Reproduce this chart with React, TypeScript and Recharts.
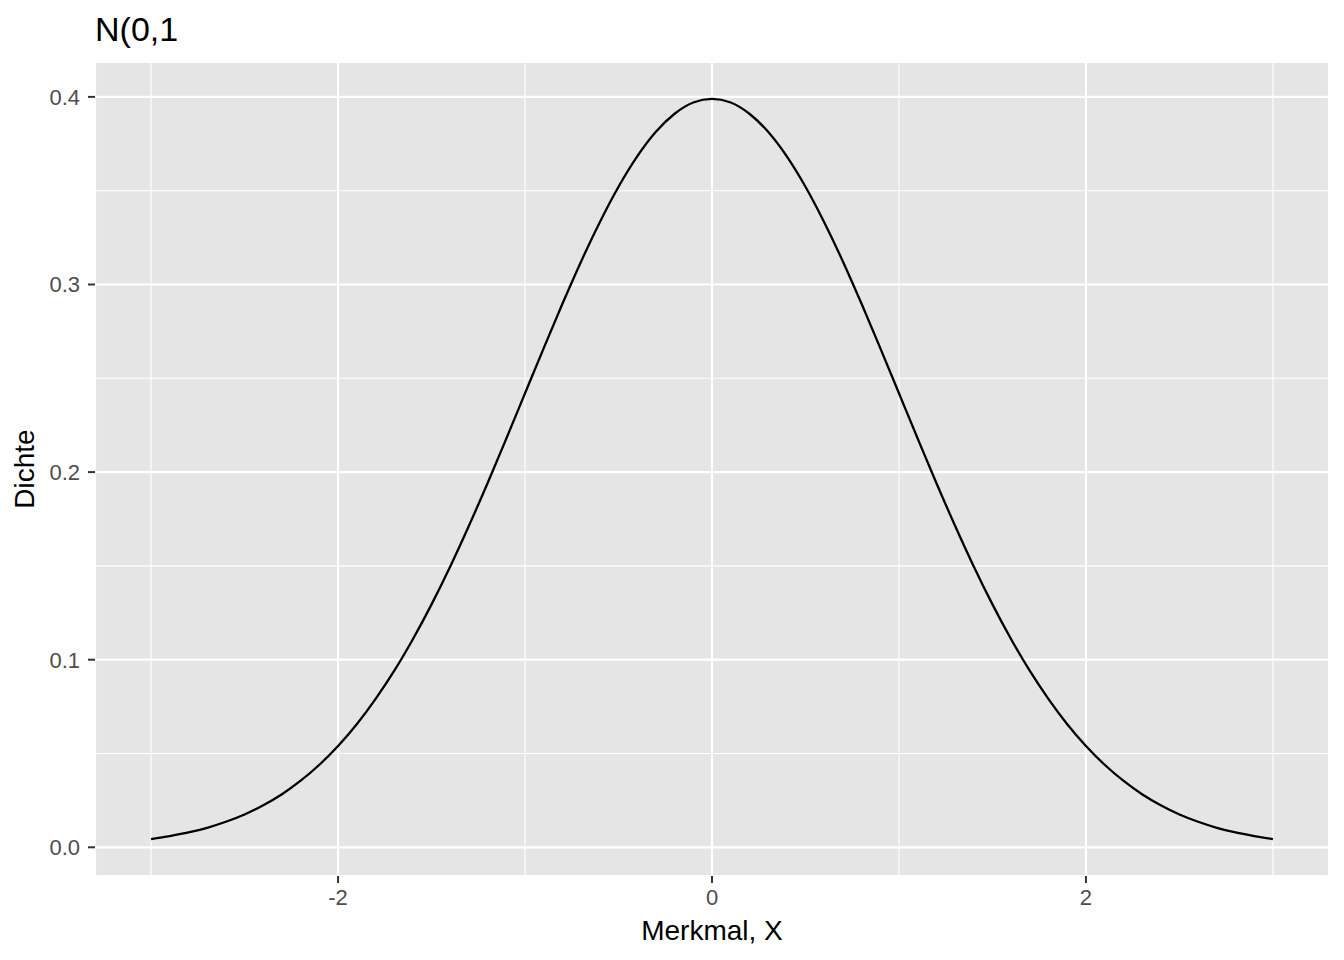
import { CartesianGrid, Label, Line, LineChart, ReferenceLine, XAxis, YAxis } from 'recharts';

// Merkmal X, Schritte von 0.1
const X_VALUES = [
  -3.0, -2.9, -2.8, -2.7, -2.6, -2.5, -2.4, -2.3, -2.2, -2.1,
  -2.0, -1.9, -1.8, -1.7, -1.6, -1.5, -1.4, -1.3, -1.2, -1.1,
  -1.0, -0.9, -0.8, -0.7, -0.6, -0.5, -0.4, -0.3, -0.2, -0.1,
  0.0,
  0.1, 0.2, 0.3, 0.4, 0.5, 0.6, 0.7, 0.8, 0.9, 1.0,
  1.1, 1.2, 1.3, 1.4, 1.5, 1.6, 1.7, 1.8, 1.9, 2.0,
  2.1, 2.2, 2.3, 2.4, 2.5, 2.6, 2.7, 2.8, 2.9, 3.0,
];

const DENSITY = [
  0.0044, 0.006, 0.0079, 0.0104, 0.0136, 0.0175, 0.0224, 0.0283, 0.0355, 0.044,
  0.054, 0.0656, 0.079, 0.094, 0.1109, 0.1295, 0.1497, 0.1714, 0.1942, 0.2179,
  0.242, 0.2661, 0.2897, 0.3123, 0.3332, 0.3521, 0.3683, 0.3814, 0.391, 0.397,
  0.3989,
  0.397, 0.391, 0.3814, 0.3683, 0.3521, 0.3332, 0.3123, 0.2897, 0.2661, 0.242,
  0.2179, 0.1942, 0.1714, 0.1497, 0.1295, 0.1109, 0.094, 0.079, 0.0656, 0.054,
  0.044, 0.0355, 0.0283, 0.0224, 0.0175, 0.0136, 0.0104, 0.0079, 0.006, 0.0044,
];

const X_TICKS = [-2, 0, 2];
const X_MINOR = [-3, -1, 1, 3];
const Y_TICKS = [0, 0.1, 0.2, 0.3, 0.4];
const Y_MINOR = [0.05, 0.15, 0.25, 0.35];

const FONT = '"Liberation Sans", Arial, Helvetica, sans-serif';

const data = X_VALUES.map((x, i) => ({ x, y: DENSITY[i] }));

export default function App() {
  return (
    <div style={{ position: 'absolute', left: 0, top: 0, width: 1344, height: 960, background: '#fff', fontFamily: FONT }}>
      <div style={{ position: 'absolute', left: 95, top: 9, fontSize: 34, lineHeight: '40px', color: '#000' }}>N(0,1</div>
      <LineChart width={1344} height={960} data={data} margin={{ top: 62, right: 15, bottom: 40, left: 0 }}>
        <CartesianGrid fill="#E5E5E5" stroke="#FFFFFF" strokeWidth={2.2} />
        <XAxis
          dataKey="x"
          type="number"
          domain={[-3.3, 3.3]}
          ticks={X_TICKS}
          allowDataOverflow
          axisLine={false}
          tickLine={{ stroke: '#333333', strokeWidth: 2 }}
          tickSize={7}
          tickMargin={6}
          height={44}
          tick={{ fill: '#4D4D4D', fontSize: 22, fontFamily: FONT }}
        >
          <Label
            content={() => (
              <text x={712} y={940} textAnchor="middle" fontSize={28} fontFamily={FONT} fill="#000">
                Merkmal, X
              </text>
            )}
          />
        </XAxis>
        <YAxis
          type="number"
          domain={[-0.0153, 0.4186]}
          ticks={Y_TICKS}
          allowDataOverflow
          axisLine={false}
          tickLine={{ stroke: '#333333', strokeWidth: 2 }}
          tickSize={7}
          tickMargin={8}
          width={95}
          tickFormatter={(v: number) => v.toFixed(1)}
          tick={{ fill: '#4D4D4D', fontSize: 22, fontFamily: FONT }}
        >
          <Label
            content={() => (
              <text x={34} y={469} transform="rotate(-90, 34, 469)" textAnchor="middle" fontSize={28} fontFamily={FONT} fill="#000">
                Dichte
              </text>
            )}
          />
        </YAxis>
        {X_MINOR.map((v) => (
          <ReferenceLine key={`xm${v}`} x={v} stroke="#FFFFFF" strokeWidth={1.1} />
        ))}
        {Y_MINOR.map((v) => (
          <ReferenceLine key={`ym${v}`} y={v} stroke="#FFFFFF" strokeWidth={1.1} />
        ))}
        <Line
          dataKey="y"
          type="monotone"
          stroke="#000000"
          strokeWidth={2.3}
          dot={false}
          isAnimationActive={false}
        />
      </LineChart>
    </div>
  );
}
